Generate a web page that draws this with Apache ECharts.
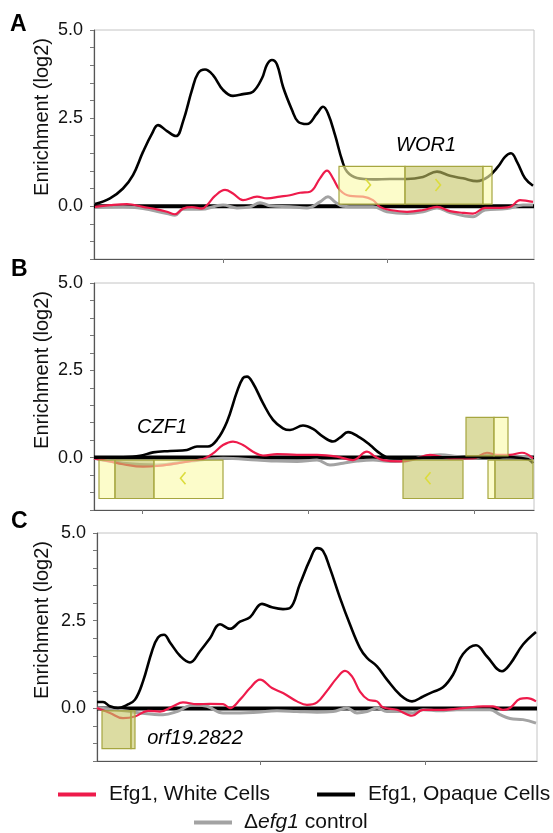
<!DOCTYPE html>
<html>
<head>
<meta charset="utf-8">
<script src="https://cdn.jsdelivr.net/npm/echarts@6/dist/echarts.min.js"></script>
<style>html,body{margin:0;padding:0;background:#fff}#c{width:553px;height:833px}</style>
</head>
<body>
<div id="c"></div>
<script>
// ---------- data (x = position along the region, y = log2 enrichment) ----------
const panelLetters = ['A', 'B', 'C'];
const yTickLabels = [0, 2.5, 5];
const yMinorTicks = [-1.5, -1, -0.5, 0, 0.5, 1, 1.5, 2, 2.5, 3, 3.5, 4, 4.5, 5];
const xTicksA = [129, 293];
const xTicksB = [48.7, 214, 380];
const xTicksC = [163.7, 328.7];

const opaqueA = [[1,0.06],[16,0.22],[29,0.5],[39,0.88],[49,1.54],[58,2.06],[64,2.3],[73,2.13],[82,1.99],[89,2.4],[98,3.3],[104,3.77],[111,3.88],[119,3.72],[129,3.3],[139,3.13],[149,3.18],[159,3.25],[168,3.63],[173,4.02],[178,4.15],[183,4.02],[189,3.39],[198,2.73],[204,2.4],[213,2.33],[223,2.63],[229,2.82],[234,2.63],[241,2.02],[248,1.31],[253,0.98],[263,0.8],[279,0.76],[296,0.77],[313,0.77],[329,0.83],[343,0.98],[356,0.86],[369,0.79],[383,0.71],[394,0.83],[404,1.12],[411,1.4],[417,1.5],[423,1.26],[431,0.79],[439,0.58]];
const whiteA = [[1,-0.02],[16,0.03],[33,0.06],[49,-0.02],[63,-0.09],[73,-0.16],[81,-0.23],[89,-0.07],[98,-0.03],[108,-0.07],[113,0.03],[121,0.29],[131,0.46],[139,0.36],[149,0.17],[163,0.27],[173,0.22],[186,0.27],[196,0.31],[206,0.38],[216,0.41],[226,0.79],[233,1.01],[239,0.79],[246,0.45],[256,0.29],[269,0.27],[279,0.17],[286,-0.02],[296,-0.11],[313,-0.16],[329,-0.11],[343,-0.02],[356,-0.14],[369,-0.19],[379,-0.21],[391,-0.05],[403,-0.05],[416,-0.02],[426,0.17],[433,0.15],[439,0.12]];
const controlA = [[1,-0.04],[29,-0.02],[49,-0.07],[73,-0.21],[81,-0.26],[89,-0.09],[106,-0.09],[129,0.03],[143,-0.05],[156,-0.02],[166,0.1],[176,0.01],[196,-0.02],[213,-0.05],[226,0.12],[234,0.27],[241,0.12],[249,0],[263,-0.02],[279,-0.02],[293,-0.16],[313,-0.21],[329,-0.16],[343,-0.05],[356,-0.18],[379,-0.3],[391,-0.11],[413,-0.07],[429,0.03],[439,0.03]];

const opaqueB = [[0,0],[29,0.01],[46,0.05],[59,0.15],[76,0.19],[93,0.22],[103,0.32],[114,0.32],[123,0.51],[133,1.03],[143,1.89],[149,2.28],[153,2.32],[159,2.13],[169,1.56],[179,1.08],[189,0.84],[196,0.79],[209,0.92],[219,0.82],[229,0.6],[239,0.46],[246,0.57],[254,0.73],[266,0.57],[276,0.36],[286,0.12],[296,-0.02],[313,-0.03],[329,0],[360,0.01],[390,0.02],[420,0.01],[434,-0.05],[439,-0.16]];
const whiteB = [[0,-0.02],[16,-0.11],[29,-0.19],[49,-0.26],[63,-0.24],[79,-0.18],[96,-0.1],[109,-0.04],[119,0.12],[129,0.36],[139,0.46],[149,0.36],[159,0.17],[169,0.06],[183,0.1],[203,0.08],[223,0.08],[243,0.03],[259,-0.07],[273,0.17],[281,0.03],[289,-0.07],[306,-0.11],[323,-0.02],[336,0.08],[356,-0.02],[379,-0.02],[393,0.14],[403,0.08],[416,0.08],[428,0.14],[439,-0.02]];
const controlB = [[0,-0.02],[29,-0.16],[63,-0.21],[96,-0.1],[129,-0.02],[163,-0.07],[183,-0.1],[203,-0.11],[223,-0.07],[236,-0.21],[249,-0.16],[263,-0.1],[279,-0.07],[296,-0.11],[313,-0.09],[329,0.03],[346,0.08],[363,0.03],[379,-0.02],[396,0.08],[413,0],[429,0.03],[439,-0.02]];

const opaqueC = [[0,0.18],[6,0.18],[13,0.06],[21,0.01],[30,0.1],[38,0.25],[46,0.77],[55,1.63],[61,2.02],[67,2.1],[73,1.88],[83,1.5],[93,1.31],[103,1.63],[113,2.0],[123,2.4],[133,2.27],[143,2.47],[153,2.6],[165,2.98],[175,2.88],[186,2.83],[193,2.86],[203,3.55],[213,4.24],[220,4.57],[226,4.49],[233,3.99],[243,3.15],[253,2.39],[263,1.72],[270,1.44],[280,1.2],[290,0.82],[303,0.39],[315,0.2],[326,0.34],[336,0.47],[346,0.6],[356,0.96],[366,1.55],[379,1.8],[390,1.48],[405,1.06],[413,1.26],[426,1.82],[439,2.18]];
const whiteC = [[0,0.01],[13,-0.13],[26,-0.28],[38,-0.23],[51,-0.07],[63,-0.09],[76,0.06],[86,0.17],[100,0.12],[113,0.13],[126,0.12],[133,0.01],[143,0.25],[153,0.58],[163,0.82],[175,0.58],[186,0.44],[200,0.2],[210,0.1],[220,0.17],[230,0.5],[240,0.87],[248,1.07],[255,0.91],[263,0.48],[271,0.25],[280,0.2],[286,0.03],[300,-0.04],[315,-0.21],[326,-0.04],[346,-0.04],[366,0.01],[386,0.06],[396,0.06],[406,-0.04],[413,0.01],[423,0.27],[430,0.29],[439,0.2]];
const controlC = [[0,0.01],[20,-0.04],[43,-0.13],[66,-0.18],[80,-0.09],[96,0.1],[110,0.06],[126,-0.13],[143,-0.13],[160,-0.11],[180,-0.07],[200,-0.09],[220,-0.11],[236,-0.09],[250,0.01],[260,-0.13],[270,-0.09],[280,0.01],[290,-0.09],[303,-0.09],[316,-0.13],[326,-0.04],[343,-0.07],[360,-0.04],[376,-0.04],[393,-0.04],[403,-0.18],[413,-0.29],[426,-0.32],[439,-0.42]];

// gene model segments: [start, end, bottom, top, kind(0 pale, 1 dark)]
const genesA = [[245,311,0.06,1.13,0],[311,389,0.06,1.13,1],[389,398,0.06,1.13,0]];
const genesB = [[5,21,-1.17,-0.07,0],[21,60,-1.17,-0.07,1],[60,129,-1.17,-0.07,0],
                [309,369,-1.17,-0.07,1],
                [372,400,0.05,1.15,1],[400,414,0.05,1.15,0],
                [394,401,-1.17,-0.07,0],[401,439,-1.17,-0.07,1]];
const genesC = [[5,34,-1.15,-0.07,1],[34,38,-1.15,-0.07,1]];
// strand arrows: [x, y, direction(1 = >, -1 = <)]
const arrowsA = [[274,0.6,1],[344,0.6,1]];
const arrowsB = [[89,-0.59,-1],[334,-0.59,-1]];
const arrowsC = [];
// gene labels
const labelsA = [{name:'WOR1', value:[332,1.72]}];
const labelsB = [{name:'CZF1', value:[68,0.86]}];
const labelsC = [{name:'orf19.2822', value:[98,-0.85]}];

const seriesNames = ['Efg1, White Cells', 'Efg1, Opaque Cells', '\u0394efg1 control'];

// ---------- chart ----------
const FONT = 'Liberation Sans, Arial, Helvetica, sans-serif';
const RED = '#ee1b4b', BLACK = '#000000', GRAY = '#a3a3a3';
const grids = [
  {left:94, top:30, width:440, height:229},
  {left:94, top:283, width:440, height:227},
  {left:97, top:533, width:440, height:228}
];
const xTicks = [xTicksA, xTicksB, xTicksC];
const panels = [
  {opaque:opaqueA, white:whiteA, control:controlA, genes:genesA, arrows:arrowsA, labels:labelsA},
  {opaque:opaqueB, white:whiteB, control:controlB, genes:genesB, arrows:arrowsB, labels:labelsB},
  {opaque:opaqueC, white:whiteC, control:controlC, genes:genesC, arrows:arrowsC, labels:labelsC}
];

const xAxes = [], yAxes = [], series = [], graphics = [];
grids.forEach((g, i) => {
  g.show = true; g.borderColor = '#c4c4c4'; g.borderWidth = 1;
  xAxes.push({
    type:'value', gridIndex:i, min:0, max:440,
    axisLine:{show:true, onZero:false, lineStyle:{color:'#555', width:1.2}},
    axisTick:{show:true, customValues:xTicks[i], length:4, lineStyle:{color:'#777'}},
    axisLabel:{show:false}, splitLine:{show:false}
  });
  yAxes.push({
    type:'value', gridIndex:i, min:-1.5, max:5,
    axisLine:{show:true, lineStyle:{color:'#555', width:1.2}},
    axisTick:{show:true, customValues:yMinorTicks, length:4, lineStyle:{color:'#777'}},
    axisLabel:{show:true, customValues:yTickLabels, margin:11, color:'#111', fontSize:18, fontFamily:FONT,
               formatter: v => Number(v).toFixed(1)},
    splitLine:{show:false}
  });
  const p = panels[i];
  // zero baseline
  series.push({type:'line', xAxisIndex:i, yAxisIndex:i, data:[[0,0],[440,0]], symbol:'none', silent:true,
               lineStyle:{color:'#000', width:4}, z:1, legendHoverLink:false});
  series.push({name:seriesNames[2], type:'line', xAxisIndex:i, yAxisIndex:i, data:p.control, symbol:'none',
               smooth:0.4, lineStyle:{color:GRAY, width:3}, itemStyle:{color:GRAY}, z:2});
  series.push({name:seriesNames[0], type:'line', xAxisIndex:i, yAxisIndex:i, data:p.white, symbol:'none',
               smooth:0.4, lineStyle:{color:RED, width:2.2}, itemStyle:{color:RED}, z:3});
  series.push({name:seriesNames[1], type:'line', xAxisIndex:i, yAxisIndex:i, data:p.opaque, symbol:'none',
               smooth:0.4, lineStyle:{color:BLACK, width:2.6}, itemStyle:{color:BLACK}, z:4});
  series.push({type:'custom', xAxisIndex:i, yAxisIndex:i, data:p.genes, silent:true, z:5,
    encode:{x:[0,1], y:[2,3]},
    renderItem:(params, api) => {
      const a = api.coord([api.value(0), api.value(3)]);
      const b = api.coord([api.value(1), api.value(2)]);
      const dark = api.value(4) === 1;
      return {type:'rect', shape:{x:a[0], y:a[1], width:b[0]-a[0], height:b[1]-a[1]},
              style:{fill: dark ? 'rgba(196,196,100,0.6)' : 'rgba(250,250,170,0.62)', stroke:'#a6a640', lineWidth:1.2}};
    }});
  series.push({type:'custom', xAxisIndex:i, yAxisIndex:i, data:p.arrows, silent:true, z:6,
    renderItem:(params, api) => {
      const c = api.coord([api.value(0), api.value(1)]);
      const d = api.value(2);
      return {type:'polyline', shape:{points:[[c[0]-2.5*d, c[1]-6],[c[0]+2.5*d, c[1]],[c[0]-2.5*d, c[1]+6]]},
              style:{stroke:'#dcdc3c', lineWidth:1.6, fill:null}};
    }});
  const labs = p.labels;
  series.push({type:'custom', xAxisIndex:i, yAxisIndex:i, data:labs.map(d => d.value), silent:true, z:7,
    renderItem:(params, api) => {
      const c = api.coord([api.value(0), api.value(1)]);
      return {type:'text', x:c[0], y:c[1],
              style:{text:labs[params.dataIndex].name, font:'italic 20px ' + FONT, fill:'#000',
                     align:'center', verticalAlign:'middle'}};
    }});

  graphics.push({type:'text', left:[10,11,11][i], top:[13,258,510][i],
    style:{text:panelLetters[i], font:'bold 23px ' + FONT, fill:'#000'}});
  graphics.push({type:'text', x:42, y:g.top + 87, rotation:Math.PI/2,
    style:{text:'Enrichment (log2)', font:'20px ' + FONT, fill:'#111', align:'center', verticalAlign:'middle'}});
});

const chart = echarts.init(document.getElementById('c'), null, {renderer:'canvas'});
chart.setOption({
  animation:false,
  backgroundColor:'#fff',
  grid:grids, xAxis:xAxes, yAxis:yAxes, series:series, graphic:graphics,
  legend:[
    {data:[seriesNames[0], seriesNames[1]], left:58, top:784, padding:0, itemGap:47, icon:'rect',
     itemWidth:38, itemHeight:4, selectedMode:false,
     textStyle:{fontSize:21, fontFamily:FONT, color:'#111', padding:[0,0,0,8]}},
    {data:[seriesNames[2]], left:194, top:812, padding:0, icon:'rect',
     itemWidth:38, itemHeight:4, selectedMode:false,
     formatter: () => '{n|\u0394}{i|efg1}{n| control}',
     textStyle:{fontSize:21, fontFamily:FONT, color:'#111', padding:[0,0,0,7],
       rich:{n:{fontSize:21, fontFamily:FONT, color:'#111'}, i:{fontSize:21, fontFamily:FONT, fontStyle:'italic', color:'#111'}}}}
  ]
});
</script>
</body>
</html>
